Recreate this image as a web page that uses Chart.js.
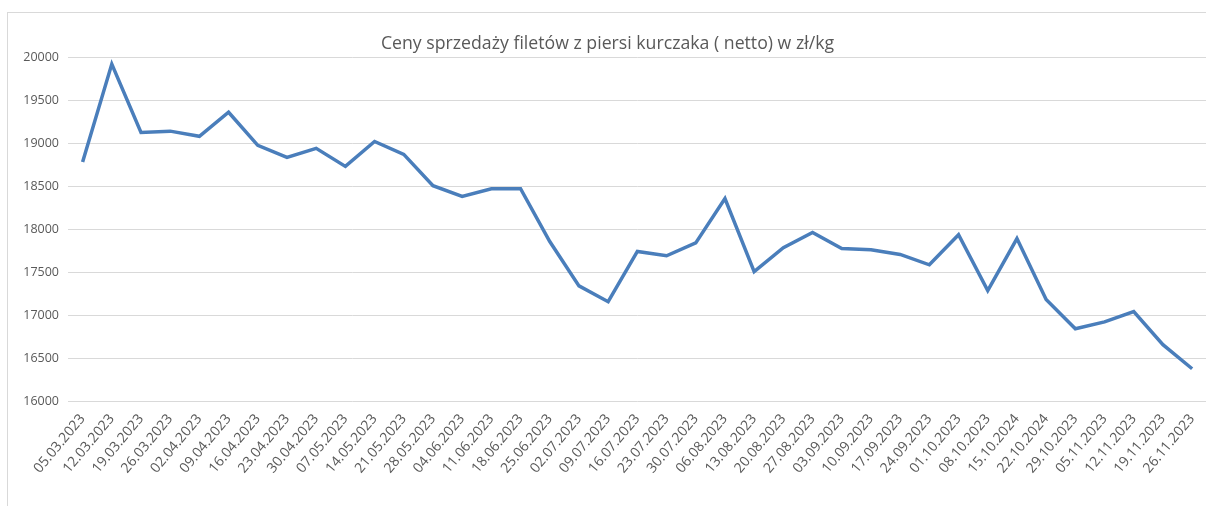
<!DOCTYPE html>
<html>
<head>
<meta charset="utf-8">
<script src="https://cdn.jsdelivr.net/npm/chart.js@4"></script>
<style>
    body { margin: 0; background: #fff; }
    #wrap {
        position: absolute; left: 7px; top: 12px;
        width: 1199px; height: 494px;
        border-left: 1px solid #d9d9d9; border-top: 1px solid #d9d9d9;
    }
</style>
</head>
<body>
<div id="wrap"><canvas id="priceChart"></canvas></div>
<script>
// Week dates (as printed on the original chart, including its typos)
const weeks = [
    '05.03.2023', '12.03.2023', '19.03.2023', '26.03.2023', '02.04.2023', '09.04.2023',
    '16.04.2023', '23.04.2023', '30.04.2023', '07.05.2023', '14.05.2023', '21.05.2023',
    '28.05.2023', '04.06.2023', '11.06.2023', '18.06.2023', '25.06.2023', '02.07.2023',
    '09.07.2023', '16.07.2023', '23.07.2023', '30.07.2023', '06.08.2023', '13.08.2023',
    '20.08.2023', '27.08.2023', '03.09.2023', '10.09.2023', '17.09.2023', '24.09.2023',
    '01.10.2023', '08.10.2023', '15.10.2024', '22.10.2024', '29.10.2023', '05.11.2023',
    '12.11.2023', '19.11.2023', '26.11.2023'
];

// Net price of chicken breast fillets
const prices = [
    18780, 19920, 19125, 19140, 19080, 19360,
    18975, 18835, 18940, 18730, 19020, 18870,
    18505, 18380, 18470, 18470, 17855, 17340,
    17155, 17740, 17690, 17840, 18355, 17505,
    17785, 17960, 17775, 17760, 17705, 17585,
    17935, 17285, 17890, 17180, 16840, 16920,
    17040, 16655, 16375
];

const yMin = 16000;
const yMax = 20000;
const yStep = 500;

const font = "'Open Sans', sans-serif";
const textColor = '#595959';

new Chart(document.getElementById('priceChart').getContext('2d'), {
    type: 'line',
    data: {
        labels: weeks,
        datasets: [{
            label: 'Cena',
            data: prices,
            borderColor: '#4a7ebb',
            borderWidth: 3.5,
            pointRadius: 0,
            tension: 0,
            fill: false,
        }],
    },
    options: {
        responsive: true,
        maintainAspectRatio: false,
        animation: false,
        scales: {
            x: {
                offset: true,
                grid: { display: false },
                border: { display: false },
                ticks: {
                    autoSkip: false,
                    minRotation: 50,
                    maxRotation: 50,
                    padding: 2,
                    color: textColor,
                    font: { size: 14, family: font },
                },
                afterFit: function (scale) { scale.height = 106; },
            },
            y: {
                min: yMin,
                max: yMax,
                grid: { color: '#d9d9d9', lineWidth: 1, drawTicks: false },
                border: { display: false },
                ticks: {
                    stepSize: yStep,
                    padding: 9,
                    color: textColor,
                    font: { size: 12.5, family: font },
                    callback: function (v) { return String(v); }, // no thousands separator
                },
                afterFit: function (scale) { scale.width = 60; },
            },
        },
        plugins: {
            legend: { display: false },
            tooltip: { enabled: false },
            title: {
                display: true,
                text: 'Ceny sprzedaży filetów z piersi kurczaka ( netto) w zł/kg',
                color: textColor,
                font: { size: 17.7, family: font, weight: 'normal' },
                padding: { top: 20, bottom: 3 },
            },
        },
    },
});
</script>
</body>
</html>
